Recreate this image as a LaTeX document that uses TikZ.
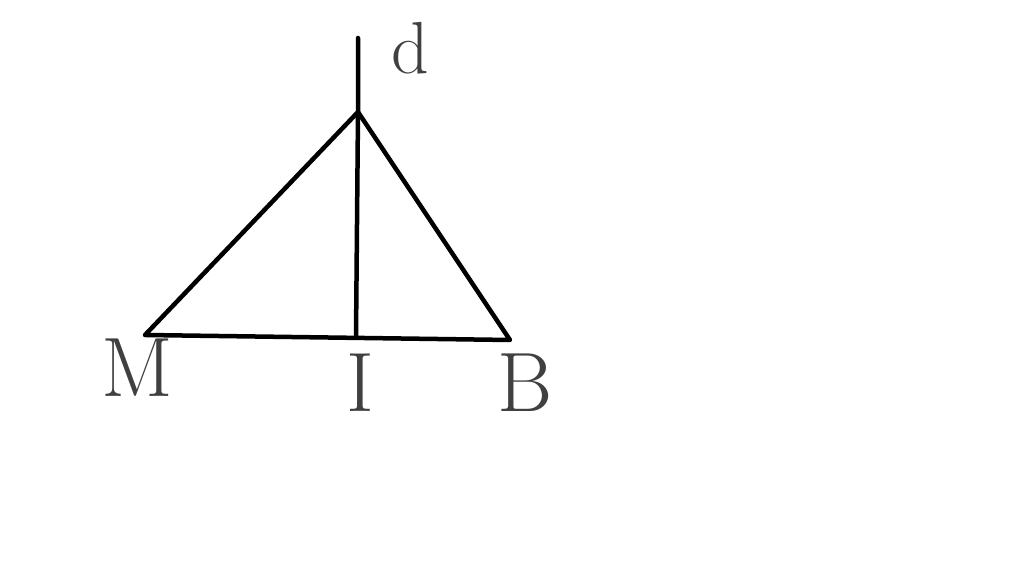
\documentclass[tikz,border=0pt]{standalone}
\usepackage{tikz}
\usetikzlibrary{calc}

\tikzset{
	stroke/.style={line width=0.9mm, line cap=round, line join=round},
	lbl/.style={inner sep=0pt, color=black!75, font=\fontsize{48}{48}\selectfont}
}

\begin{document}
\begin{tikzpicture}
		%%%%% START %%%%%
		
		\useasboundingbox[fill=white] (0, 0) rectangle (20.48, 11.26);
		
		\coordinate (M) at (2.9, 4.56);
		\coordinate (B) at (10.2, 4.46);
		\coordinate (A) at (7.16, 9.02);
		\coordinate (I) at (7.12, 4.52);
		\coordinate (Dtop) at (7.16, 10.5);
		
		\draw[stroke] (M) -- (A) -- (B) -- (M);
		\draw[stroke] (Dtop) -- (A) -- (I);
		
		\node[lbl, font=\fontsize{42}{42}\selectfont] (ld) at (8.2, 10.3) {d};
		\node[lbl] (lM) at (2.75, 3.9) {M};
		\node[lbl] (lI) at (7.2, 3.6) {I};
		\node[lbl] (lB) at (10.5, 3.6) {B};
		
		%%%%% END %%%%%
	\end{tikzpicture}
\end{document}
